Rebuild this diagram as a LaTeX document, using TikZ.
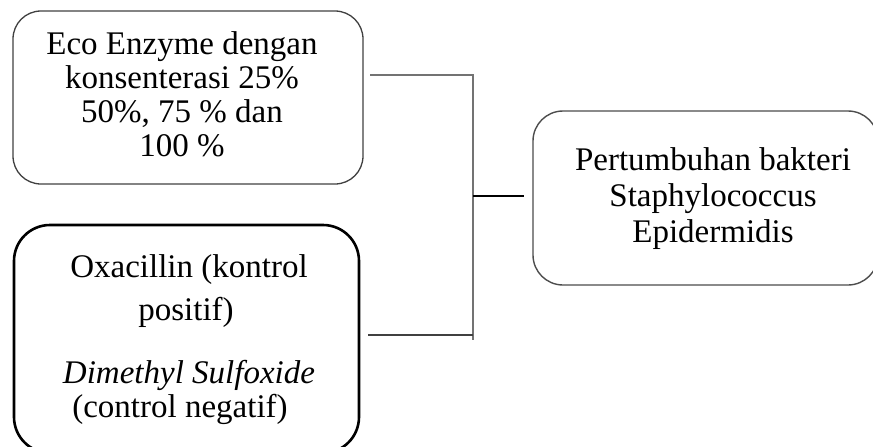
\documentclass[tikz,border=0pt]{standalone}
\usepackage{fontspec}
\setmainfont{Liberation Serif}
\begin{document}
\begin{tikzpicture}[x=1pt,y=-1pt,
  box/.style={draw, rounded corners=#1, inner sep=0pt},
  txt/.style={anchor=base, inner sep=0pt, font=\fontsize{33}{34}\selectfont},
  link/.style={line width=1.5pt, draw=gray!90!black}]
\useasboundingbox (0,0) rectangle (873,447);
\clip (0,0) rectangle (873,447);
% boxes
\draw[box=28pt, draw=black!75, line width=1.3pt] (13,11) rectangle (363,184);
\node[inner sep=0pt, minimum width=350pt, minimum height=173pt] (b1) at (188,97.5) {};
\draw[box=36pt, draw=black, line width=2.6pt] (14,225) rectangle (359,453);
\node[inner sep=0pt, minimum width=345pt, minimum height=228pt] (b2) at (186.5,339) {};
\draw[box=30pt, draw=black!70, line width=1.4pt] (533,111) rectangle (878,285);
\node[inner sep=0pt, minimum width=345pt, minimum height=174pt] (b3) at (705.5,198) {};
% texts
\node[txt] (t11) at (182,54) {Eco Enzyme dengan};
\node[txt] (t12) at (182,88) {konsenterasi 25\%};
\node[txt] (t13) at (182,122) {50\%, 75 \% dan};
\node[txt] (t14) at (182,156) {100 \%};
\node[txt] (t21) at (189,277) {Oxacillin (kontrol};
\node[txt] (t22) at (186,320) {positif)};
\node[txt] (t23) at (189,383) {\itshape Dimethyl Sulfoxide};
\node[txt] (t24) at (180,417) {(control negatif)};
\node[txt] (t31) at (713,170) {Pertumbuhan bakteri};
\node[txt] (t32) at (713,206) {Staphylococcus};
\node[txt] (t33) at (713,242) {Epidermidis};
% connectors
\coordinate (j1) at (370,75);
\coordinate (j2) at (473,75);
\coordinate (j3) at (473,340);
\coordinate (j4) at (368,335);
\coordinate (j5) at (473,335);
\coordinate (jm) at (473,196);
\coordinate (e3) at (524,196);
\draw[link] (j1) -- (j2) -- (j3);
\draw[link, draw=black!75] (j4) -- (j5);
\draw[line width=1.3pt, draw=black] (jm) -- (e3);
\end{tikzpicture}
\end{document}
